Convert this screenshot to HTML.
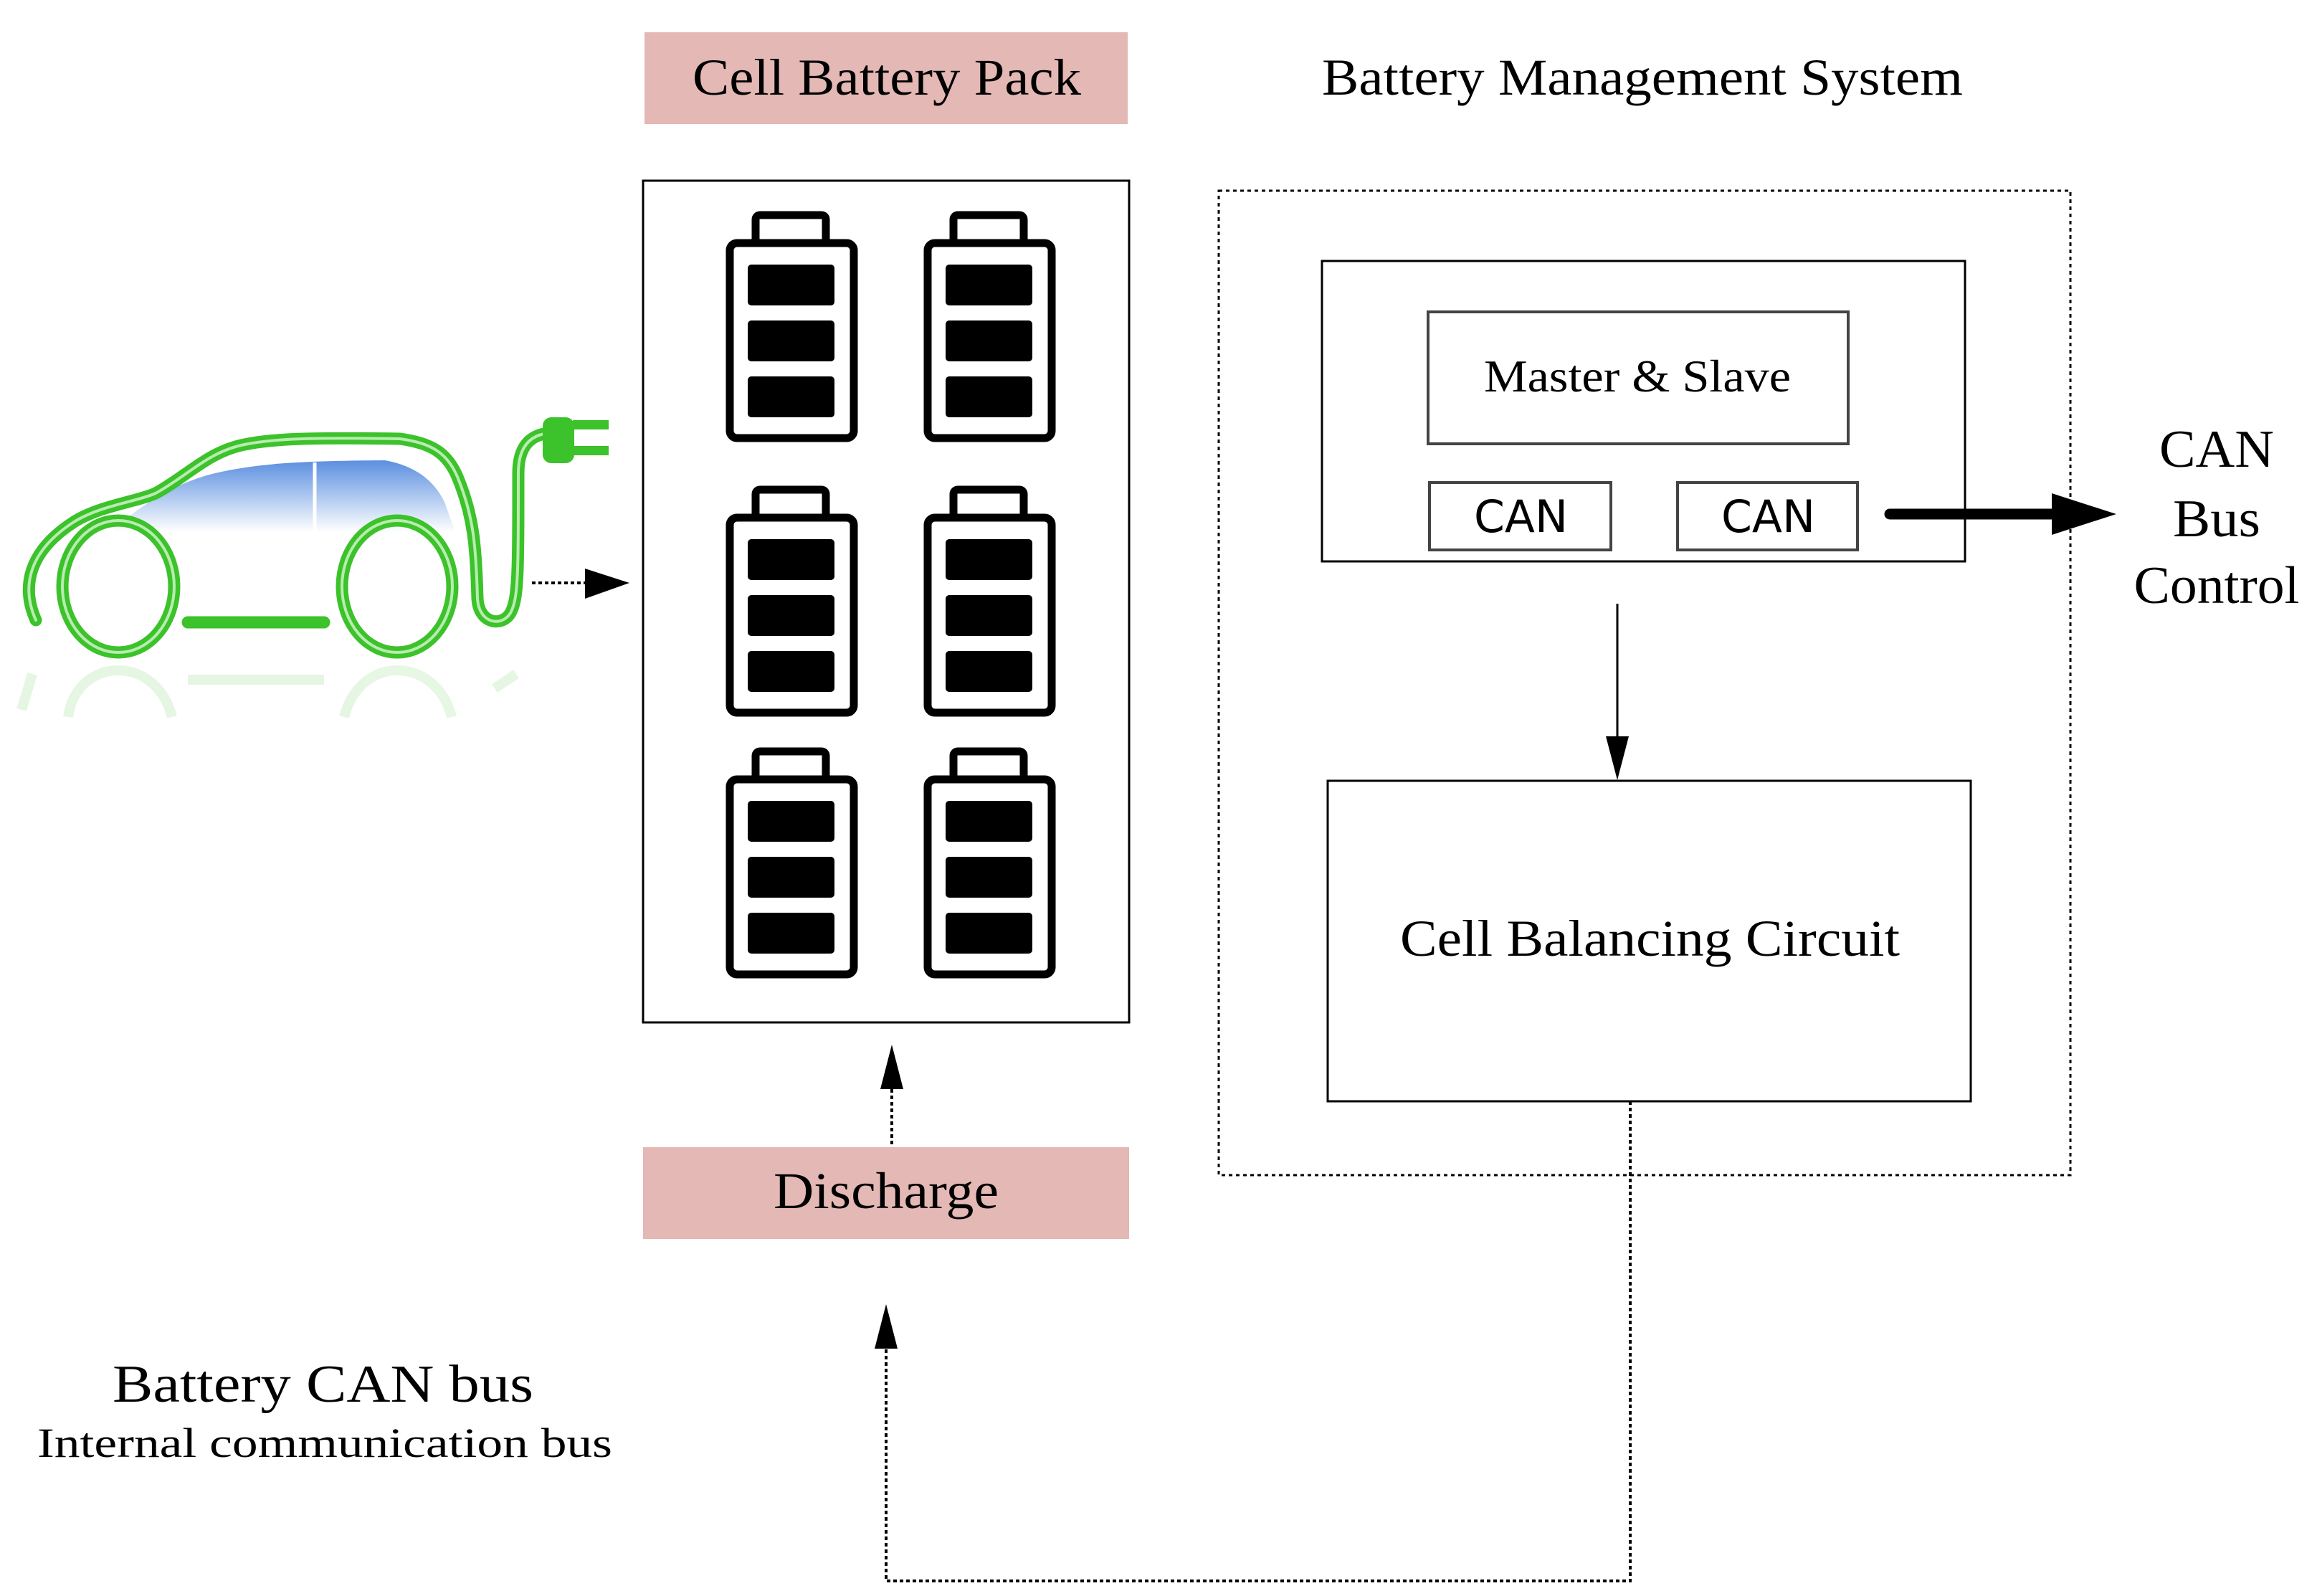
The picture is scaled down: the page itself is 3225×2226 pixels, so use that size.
<!DOCTYPE html>
<html><head><meta charset="utf-8"><style>html,body{margin:0;padding:0;background:#fff}svg{display:block}</style></head><body>
<svg width="3225" height="2226" viewBox="0 0 3225 2226" xmlns="http://www.w3.org/2000/svg">
<defs>
<linearGradient id="win" x1="0" y1="0" x2="0" y2="1"><stop offset="0" stop-color="#5b8fe0"/><stop offset="1" stop-color="#ffffff"/></linearGradient>
<g id="bat">
<rect x="36" y="0" width="98" height="45" rx="6" fill="none" stroke="#000" stroke-width="11"/>
<rect x="0" y="39" width="173" height="272" rx="10" fill="#fff" stroke="#000" stroke-width="11"/>
<rect x="25" y="69" width="121" height="57" rx="5" fill="#000"/>
<rect x="25" y="147" width="121" height="57" rx="5" fill="#000"/>
<rect x="25" y="225" width="121" height="57" rx="5" fill="#000"/>
</g>
</defs>
<g font-family="Liberation Serif, serif" fill="#000">
<rect x="899" y="45" width="674" height="128" fill="#e3b8b5"/>
<text x="966" y="132" font-size="72" textLength="542" lengthAdjust="spacingAndGlyphs">Cell Battery Pack</text>
<text x="1844" y="132" font-size="72" textLength="894" lengthAdjust="spacingAndGlyphs">Battery Management System</text>
<rect x="897" y="252" width="678" height="1174" fill="#fff" stroke="#000" stroke-width="3"/>
<use href="#bat" x="1018" y="300"/><use href="#bat" x="1294" y="300"/>
<use href="#bat" x="1018" y="683"/><use href="#bat" x="1294" y="683"/>
<use href="#bat" x="1018" y="1048"/><use href="#bat" x="1294" y="1048"/>
<path d="M155,742 C200,700 250,672 300,660 C360,646 420,643 537,642 C580,650 605,670 620,700 L635,742 Z" fill="url(#win)"/>
<line x1="439" y1="645" x2="439" y2="745" stroke="#fff" stroke-width="5"/>
<g fill="none" stroke="#3cc22a" stroke-width="17" stroke-linecap="round">
<path d="M50,865 C30,820 38,770 103,728 C140,705 190,700 217,688 C260,665 290,630 341,620 C380,612 430,610 558,612 C600,618 625,630 640,670 C660,720 664,760 666,835 C668,870 700,875 712,855 C723,835 723,800 723,660 C723,628 735,610 759,605"/>
<ellipse cx="165" cy="818" rx="78" ry="92"/>
<ellipse cx="554" cy="818" rx="77" ry="92"/>
<line x1="262" y1="868" x2="452" y2="868"/>
</g>
<g fill="none" stroke="#b8ecb0" stroke-width="4" stroke-linecap="round">
<path d="M50,865 C30,820 38,770 103,728 C140,705 190,700 217,688 C260,665 290,630 341,620 C380,612 430,610 558,612 C600,618 625,630 640,670 C660,720 664,760 666,835 C668,870 700,875 712,855 C723,835 723,800 723,660 C723,628 735,610 759,605"/>
<ellipse cx="165" cy="818" rx="78" ry="92"/><ellipse cx="554" cy="818" rx="77" ry="92"/>
</g>
<g fill="none" stroke="#3cc22a" stroke-width="14" opacity="0.13">
<path d="M95,1000 C100,960 130,935 165,935 C200,935 230,960 240,1000"/>
<path d="M480,1000 C490,960 520,935 554,935 C590,935 620,960 630,1000"/>
<line x1="262" y1="948" x2="452" y2="948"/>
<path d="M30,990 L45,940"/><path d="M690,960 L720,940"/>
</g>
<rect x="757" y="582" width="44" height="64" rx="12" fill="#3cc22a"/>
<rect x="799" y="586" width="50" height="13" fill="#3cc22a"/>
<rect x="799" y="622" width="50" height="13" fill="#3cc22a"/>
<line x1="742" y1="813" x2="818" y2="813" stroke="#000" stroke-width="4" stroke-dasharray="5 4"/>
<polygon points="816,793 878,813 816,835" fill="#000"/>
<rect x="1700" y="266" width="1188" height="1373" fill="none" stroke="#000" stroke-width="3" stroke-dasharray="5 5"/>
<rect x="1844" y="364" width="897" height="419" fill="#fff" stroke="#000" stroke-width="3"/>
<rect x="1992" y="435" width="586" height="184" fill="#fff" stroke="#444" stroke-width="4"/>
<text x="2070" y="546" font-size="64" textLength="428" lengthAdjust="spacingAndGlyphs">Master &amp; Slave</text>
<rect x="1994" y="673" width="253" height="94" fill="#fff" stroke="#444" stroke-width="4"/>
<rect x="2340" y="673" width="251" height="94" fill="#fff" stroke="#444" stroke-width="4"/>
<g font-family="DejaVu Sans, Liberation Sans, sans-serif">
<text x="2056" y="742" font-size="62" textLength="131" lengthAdjust="spacingAndGlyphs">CAN</text>
<text x="2401" y="742" font-size="62" textLength="131" lengthAdjust="spacingAndGlyphs">CAN</text>
</g>
<line x1="2636" y1="717" x2="2870" y2="717" stroke="#000" stroke-width="15" stroke-linecap="round"/>
<polygon points="2862,688 2952,717 2862,746" fill="#000"/>
<g font-size="74" text-anchor="middle">
<text x="3092" y="651" textLength="160" lengthAdjust="spacingAndGlyphs">CAN</text>
<text x="3092" y="748" textLength="122" lengthAdjust="spacingAndGlyphs">Bus</text>
<text x="3092" y="841" textLength="231" lengthAdjust="spacingAndGlyphs">Control</text>
</g>
<line x1="2256" y1="842" x2="2256" y2="1040" stroke="#000" stroke-width="3"/>
<polygon points="2240,1027 2272,1027 2256,1088" fill="#000"/>
<rect x="1852" y="1089" width="897" height="447" fill="#fff" stroke="#000" stroke-width="3"/>
<text x="1953" y="1333" font-size="72" textLength="697" lengthAdjust="spacingAndGlyphs">Cell Balancing Circuit</text>
<rect x="897" y="1600" width="678" height="128" fill="#e3b8b5"/>
<text x="1079" y="1685" font-size="72" textLength="314" lengthAdjust="spacingAndGlyphs">Discharge</text>
<line x1="1244" y1="1519" x2="1244" y2="1600" stroke="#000" stroke-width="4" stroke-dasharray="5 4"/>
<polygon points="1228,1519 1260,1519 1244,1457" fill="#000"/>
<polyline points="2274,1536 2274,2205 1236,2205 1236,1880" fill="none" stroke="#000" stroke-width="4" stroke-dasharray="5 4"/>
<polygon points="1220,1881 1252,1881 1236,1819" fill="#000"/>
<text x="157" y="1955" font-size="74" textLength="587" lengthAdjust="spacingAndGlyphs">Battery CAN bus</text>
<text x="52" y="2032" font-size="58" textLength="802" lengthAdjust="spacingAndGlyphs">Internal communication bus</text>
</g>
</svg>
</body></html>
